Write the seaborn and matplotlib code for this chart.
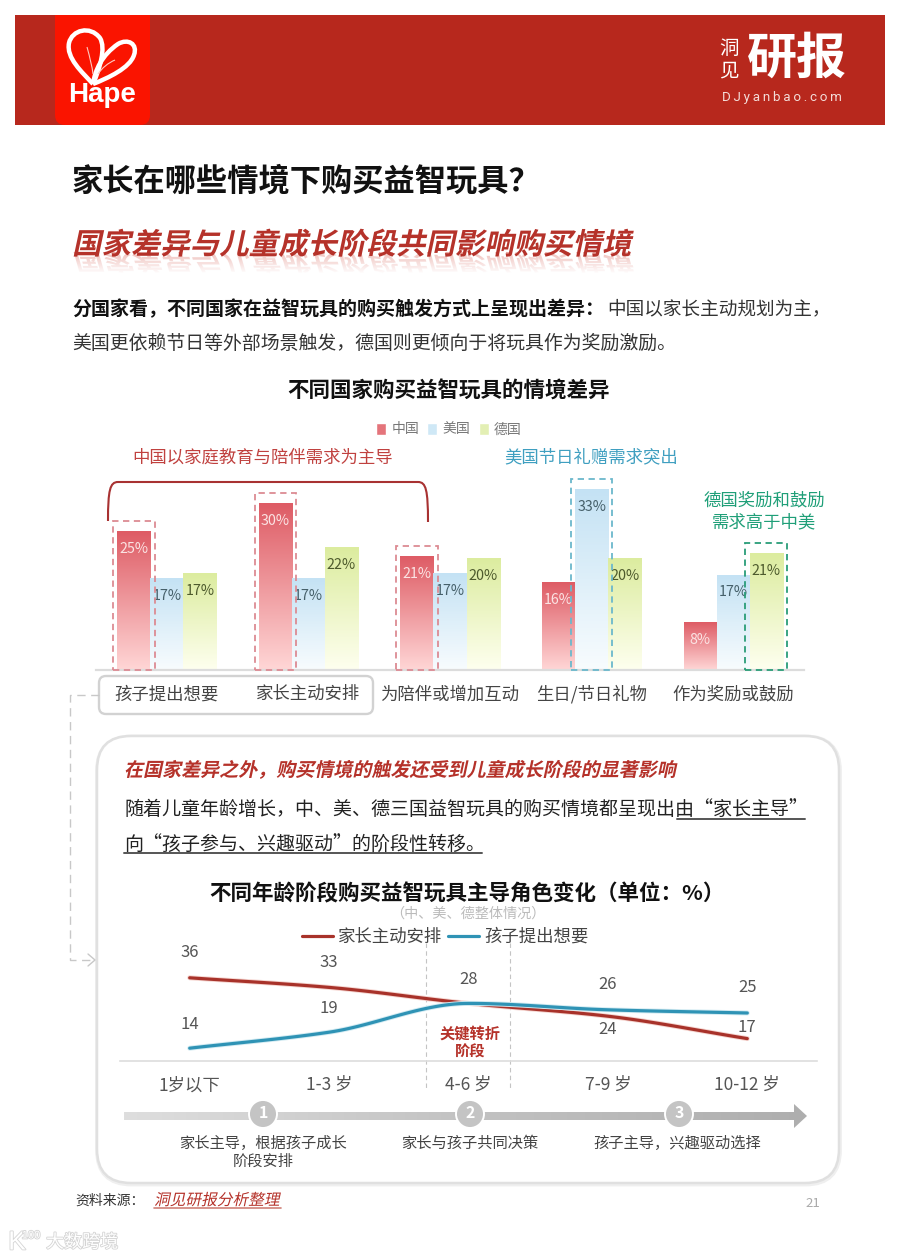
import numpy as np
import pandas as pd
import matplotlib
matplotlib.use('Agg')
import matplotlib.pyplot as plt
import matplotlib.patheffects as pe
from matplotlib.colors import LinearSegmentedColormap
from matplotlib.patches import Rectangle, FancyBboxPatch, Circle, PathPatch, Polygon
from matplotlib.path import Path
from matplotlib.transforms import Affine2D
import seaborn as sns

# Bar chart data
scenes = ['孩子提出想要', '家长主动安排', '为陪伴或增加互动', '生日/节日礼物', '作为奖励或鼓励']
countries = ['中国', '美国', '德国']
china = [25.0, 30.0, 20.5, 15.8, 8.5]
usa = [16.5, 16.5, 17.3, 32.5, 17.1]
germany = [17.4, 22.1, 20.0, 20.0, 20.9]
china_labels = ['25%', '30%', '21%', '16%', '8%']
usa_labels = ['17%', '17%', '17%', '33%', '17%']
germany_labels = ['17%', '22%', '20%', '20%', '21%']

# Line chart data
ages = ['1岁以下', '1-3 岁', '4-6 岁', '7-9 岁', '10-12 岁']
parent = [36, 33, 28, 24, 17]
child = [14, 19, 28, 26, 25]

W, H = 900, 1260
RED = '#b7281d'

sns.set_theme(style='white')
plt.rcParams['font.family'] = ['Noto Sans CJK SC', 'DejaVu Sans']
plt.rcParams['axes.unicode_minus'] = False

fig = plt.figure(figsize=(9, 12.6), dpi=100, facecolor='white')

# Page layer in pixel coordinates, y going down
bg = fig.add_axes([0, 0, 1, 1], zorder=0)
bg.set_xlim(0, W)
bg.set_ylim(H, 0)
bg.axis('off')


def px_axes(x0, y0, x1, y1):
    ax = fig.add_axes([x0 / W, 1 - y1 / H, (x1 - x0) / W, (y1 - y0) / H], zorder=1)
    ax.patch.set_alpha(0)
    return ax


class Sheared(pe.AbstractPathEffect):
    # CJK fonts have no italic, so lean the glyphs (and mirror them for the reflection)
    def __init__(self, shear=12, flip=False):
        super().__init__()
        self.shear = shear
        self.flip = flip

    def draw_path(self, renderer, gc, tpath, affine, rgbFace=None):
        t = Affine2D().skew_deg(self.shear, 0)
        if self.flip:
            t = t.scale(1, -0.75)
        renderer.draw_path(gc, tpath, t + affine, rgbFace)


def txt(x, y, s, size, color='#333333', ha='left', va='center', weight='normal', **kw):
    # CJK glyphs sit a little high when centred
    if va == 'center':
        y = y + 1.5
    return bg.text(x, y, s, fontsize=size, color=color, ha=ha, va=va, fontweight=weight, **kw)


def gradient_bar(ax, patch, top, bottom):
    cmap = LinearSegmentedColormap.from_list('bar', [top, bottom])
    x0, w, h = patch.get_x(), patch.get_width(), patch.get_height()
    ax.imshow(np.linspace(0, 1, 128).reshape(-1, 1), cmap=cmap, aspect='auto', origin='upper',
              extent=[x0, x0 + w, 0, h], zorder=2)
    patch.set_visible(False)


def smooth(xs, ys, n=30):
    # monotone cubic through the data points, only for drawing the rounded line
    xs, ys = np.asarray(xs, float), np.asarray(ys, float)
    d = np.diff(ys) / np.diff(xs)
    m = np.zeros_like(ys)
    m[0], m[-1] = d[0], d[-1]
    for i in range(1, len(ys) - 1):
        if d[i - 1] * d[i] > 0:
            m[i] = 2 * d[i - 1] * d[i] / (d[i - 1] + d[i])
    out_x, out_y = [], []
    for i in range(len(xs) - 1):
        t = np.linspace(0, 1, n)
        h = xs[i + 1] - xs[i]
        out_x.append(xs[i] + t * h)
        out_y.append((2 * t**3 - 3 * t**2 + 1) * ys[i] + (t**3 - 2 * t**2 + t) * h * m[i]
                     + (-2 * t**3 + 3 * t**2) * ys[i + 1] + (t**3 - t**2) * h * m[i + 1])
    return np.concatenate(out_x), np.concatenate(out_y)


# Header
bg.add_patch(Rectangle((15, 15), 870, 110, fc=RED, ec='none'))
bg.add_patch(FancyBboxPatch((55, 15), 95, 110, boxstyle='round,pad=0,rounding_size=10', fc='#fa1400', ec='none'))
bg.add_patch(Rectangle((55, 15), 95, 30, fc='#fa1400', ec='none'))
left_lobe = Path([(93, 84), (82, 72), (66, 58), (69, 43), (72, 30), (90, 25), (100, 38), (106, 48), (100, 68), (93, 84)],
                 [1, 4, 4, 4, 4, 4, 4, 4, 4, 4])
right_lobe = Path([(93, 84), (95, 70), (102, 55), (118, 44), (128, 38), (138, 44), (134, 55), (130, 68), (108, 78), (93, 84)],
                  [1, 4, 4, 4, 4, 4, 4, 4, 4, 4])
for lobe in (left_lobe, right_lobe):
    bg.add_patch(PathPatch(lobe, fc='none', ec='white', lw=3.2))
bg.add_patch(PathPatch(Path([(87, 47), (90, 58), (92, 66), (93, 74)], [1, 4, 4, 4]), fc='none', ec='#ffc9c0', lw=0.8))
bg.add_patch(PathPatch(Path([(115, 60), (108, 63), (102, 68), (98, 74)], [1, 4, 4, 4]), fc='none', ec='#ffc9c0', lw=0.8))
txt(102, 94, 'Hape', 20, 'white', ha='center', weight='bold', family=['Liberation Sans'])
txt(729, 47, '洞', 14, 'white', ha='center')
txt(729, 70, '见', 14, 'white', ha='center')
txt(747, 58, '研报', 36, 'white', weight='bold')
txt(782, 95.5, '\u2009'.join('DJyanbao.com'), 9.6, '#f4dcd8', ha='center', family=['Roboto', 'DejaVu Sans'])

# Titles and intro
txt(72, 180, '家长在哪些情境下购买益智玩具？', 22.5, '#111111', weight='bold')
txt(72, 254, '国家差异与儿童成长阶段共同影响购买情境', 21.2, '#e9a8a2', va='baseline', weight='bold',
    path_effects=[Sheared(12, flip=True)])
fade = np.ones((64, 1, 4))
fade[:, 0, 3] = np.linspace(0.35, 1, 64)
bg.imshow(fade, extent=[60, 660, 274, 254], aspect='auto', zorder=3)
txt(72, 254, '国家差异与儿童成长阶段共同影响购买情境', 21.2, '#b5322a', va='baseline', weight='bold', zorder=4,
    path_effects=[Sheared(12)])
txt(72, 308, '分国家看，不同国家在益智玩具的购买触发方式上呈现出差异：', 13.7, '#111111', weight='bold')
txt(607, 308, '中国以家长主动规划为主，', 13.4, '#333333')
txt(72, 342, '美国更依赖节日等外部场景触发，德国则更倾向于将玩具作为奖励激励。', 13.6, '#333333')

# Bar chart
txt(449, 390, '不同国家购买益智玩具的情境差异', 15.5, '#111111', ha='center', weight='bold')
bar_df = pd.DataFrame({
    '情境': scenes * 3,
    '国家': sum([[c] * len(scenes) for c in countries], []),
    '占比': china + usa + germany,
})
ax1 = px_axes(96, 470, 804, 670)
sns.barplot(data=bar_df, x='情境', y='占比', hue='国家', hue_order=countries,
            palette=['#e4747b', '#cfe8f6', '#e3efb4'], width=0.70, gap=0, saturation=1, ax=ax1)
sns.move_legend(ax1, 'center', bbox_to_anchor=(449 / W, 1 - 429.5 / H), bbox_transform=fig.transFigure,
                ncols=3, title=None, frameon=False, fontsize=10, labelcolor='#777777',
                handlelength=0.7, handleheight=1.0, handletextpad=0.4, columnspacing=0.6)
ax1.set_autoscale_on(False)
ax1.set_xlim(-0.5, 4.5)
ax1.set_ylim(0, 36)
ramps = [('#de5c65', '#ffd6d6'), ('#c4e2f4', '#f8fcfe'), ('#dcec9f', '#feffef')]
text_colors = ['#fbe3e3', '#46606a', '#4d5a2c']
all_labels = [china_labels, usa_labels, germany_labels]
for cont, ramp, lab, col in zip(ax1.containers, ramps, all_labels, text_colors):
    for p in cont:
        gradient_bar(ax1, p, *ramp)
    for p, s in zip(cont, lab):
        ax1.annotate(s, (p.get_x() + p.get_width() / 2, p.get_height()), xytext=(0, -12.6),
                     textcoords='offset points', ha='center', va='center', fontsize=10.3, color=col, zorder=5)
ax1.set_xlabel('')
ax1.set_ylabel('')
ax1.set_yticks([])
ax1.tick_params(axis='x', length=0, pad=11, labelsize=12.5, labelcolor='#444444')
sns.despine(ax=ax1, left=True)
ax1.spines['bottom'].set_color('#dcdcdc')
ax1.spines['bottom'].set_linewidth(1.6)

# Dashed boxes around the leading bar of each group
boxed = [(0, 0, '#dc8b93'), (0, 1, '#dc8b93'), (0, 2, '#dc8b93'), (1, 3, '#6bb8cc'), (2, 4, '#2a9d78')]
for series, group, color in boxed:
    p = ax1.containers[series][group]
    ax1.add_patch(Rectangle((p.get_x() - 0.03, 0), p.get_width() + 0.06, p.get_height() + 1.9, fc='none', ec=color,
                            lw=1.3, ls=(0, (3.5, 2.5)), zorder=6, clip_on=False))

txt(263, 456, '中国以家庭教育与陪伴需求为主导', 12.5, '#c0413f', ha='center')
txt(591, 456, '美国节日礼赠需求突出', 12.5, '#3f9fc0', ha='center')
txt(764, 499, '德国奖励和鼓励', 12.5, '#1f9f78', ha='center')
txt(764, 521, '需求高于中美', 12.5, '#1f9f78', ha='center')
bracket = Path([(108, 521), (108, 490), (110, 482), (118, 482), (418, 482), (426, 482), (428, 490), (428, 522)],
               [1, 4, 4, 4, 2, 4, 4, 4])
bg.add_patch(PathPatch(bracket, fc='none', ec='#a83232', lw=1.5))

# Box around first two labels and connector into the panel
bg.add_patch(FancyBboxPatch((99, 676), 274, 38, boxstyle='round,pad=0,rounding_size=7', fc='white', ec='#d2d2d2', lw=1.7))
bg.plot([99, 70, 70, 92], [695, 695, 960, 960], color='#c8c8c8', lw=1, ls=(0, (6, 4)))
bg.plot([88, 95, 88], [954, 960, 966], color='#c8c8c8', lw=1)

# Rounded panel
bg.add_patch(FancyBboxPatch((97.5, 737), 742, 447, boxstyle='round,pad=0,rounding_size=34', fc='none', ec='#efefef', lw=3.5))
bg.add_patch(FancyBboxPatch((97, 736), 742, 447, boxstyle='round,pad=0,rounding_size=34', fc='white', ec='#e0e0e0', lw=1.8))
txt(124, 769, '在国家差异之外，购买情境的触发还受到儿童成长阶段的显著影响', 13.7, '#b5322a', weight='bold',
    path_effects=[Sheared(12)])
txt(124, 808, '随着儿童年龄增长，中、美、德三国益智玩具的购买情境都呈现出由“家长主导”', 13.7, '#222222')
txt(124, 843, '向“孩子参与、兴趣驱动”的阶段性转移。', 13.7, '#222222')
bg.plot([677, 805], [819, 819], color='#555555', lw=1.4)
bg.plot([124, 482], [853, 853], color='#555555', lw=1.4)
txt(467, 892, '不同年龄阶段购买益智玩具主导角色变化（单位：%）', 15.5, '#111111', ha='center', weight='bold')
txt(468, 912, '（中、美、德整体情况）', 10.2, '#bbbbbb', ha='center')

# Transition band behind the line chart
for x in (425.5, 509.5):
    bg.plot([x, x], [943, 1088], color='#c4c4c4', lw=0.8, ls=(0, (4, 3)))
txt(470, 1032, '关键转折', 11, '#b5322a', ha='center', weight='bold')
txt(470, 1050, '阶段', 11, '#b5322a', ha='center', weight='bold')

# Line chart
line_df = pd.DataFrame({
    '年龄': ages * 2,
    '角色': ['家长主动安排'] * len(ages) + ['孩子提出想要'] * len(ages),
    '比例': parent + child,
})
ax2 = px_axes(120, 945, 817, 1061)
sns.lineplot(data=line_df, x='年龄', y='比例', hue='角色', palette=['#a8322a', '#2f93b5'], sort=False,
             linewidth=2.3, ax=ax2)
sns.move_legend(ax2, 'center', bbox_to_anchor=(445 / W, 1 - 937 / H), bbox_transform=fig.transFigure,
                ncols=2, title=None, frameon=False, fontsize=12.5, labelcolor='#444444',
                handlelength=1.8, handletextpad=0.3, columnspacing=0.3)
ax2.set_xlim(-0.5, 4.5)
ax2.set_ylim(10, 46.25)
halos = ['#f5d5d0', '#d3ebf2']
for line, halo in zip(ax2.lines[:2], halos):
    sx, sy = smooth(*line.get_data())
    line.set_data(sx, sy)
    line.set_path_effects([pe.withStroke(linewidth=3.6, foreground=halo)])
    line.set_solid_capstyle('round')
# label offsets in points from the data point
parent_off = [18, 18, 17, -9.5, 8]
child_off = [17, 17, None, 18, 18]
for vals, offs in ((parent, parent_off), (child, child_off)):
    for i, (v, off) in enumerate(zip(vals, offs)):
        if off is not None:
            ax2.annotate(str(v), (i, v), xytext=(0, off), textcoords='offset points', ha='center', va='center',
                         fontsize=12, color='#555555', annotation_clip=False)
ax2.set_xlabel('')
ax2.set_ylabel('')
ax2.set_yticks([])
ax2.tick_params(axis='x', length=0, pad=11, labelsize=12.5, labelcolor='#555555')
sns.despine(ax=ax2, left=True)
ax2.spines['bottom'].set_color('#dddddd')
ax2.spines['bottom'].set_linewidth(1.2)

# Stage arrow
arrow_cmap = LinearSegmentedColormap.from_list('arrow', ['#dedede', '#c2c2c2', '#aeaeae'])
arrow_img = bg.imshow(np.linspace(0, 1, 256).reshape(1, -1), cmap=arrow_cmap, aspect='auto',
                      extent=[124, 807, 1129, 1103], zorder=2)
arrow_shape = Polygon([(124, 1112), (794, 1112), (794, 1104), (807, 1116), (794, 1128), (794, 1120), (124, 1120)],
                      transform=bg.transData)
arrow_img.set_clip_path(arrow_shape)
stage_x = [263, 470, 679]
stage_text = ['家长主导，根据孩子成长', '家长与孩子共同决策', '孩子主导，兴趣驱动选择']
for i, (x, s) in enumerate(zip(stage_x, stage_text)):
    bg.add_patch(Circle((x, 1114), 14, fc='#c4c4c4', ec='white', lw=1.4, zorder=3))
    txt(x, 1112, str(i + 1), 11.5, 'white', ha='center', weight='bold', zorder=4)
    txt(x - 2 if i == 2 else x, 1142, s, 11, '#444444', ha='center')
txt(263, 1160, '阶段安排', 11, '#444444', ha='center')

# Footer
txt(75, 1199, '资料来源：', 10, '#333333')
txt(154, 1199, '洞见研报分析整理', 11.3, '#b5322a', path_effects=[Sheared(12)])
bg.plot([154, 281], [1208, 1208], color='#d08078', lw=1.2)
txt(813, 1202, '21', 9.5, '#aaaaaa', ha='center')
halo_wm = [pe.withStroke(linewidth=1.2, foreground='#d4d4d4')]
txt(17, 1241, 'K', 19, 'white', ha='center', family=['Liberation Sans'], path_effects=halo_wm)
txt(31, 1234, '100', 8, 'white', ha='center', family=['Liberation Sans'], path_effects=halo_wm)
txt(46, 1241, '大数跨境', 13, 'white', path_effects=halo_wm)

bg.set_xlim(0, W)
bg.set_ylim(H, 0)

fig.savefig('out.png', dpi=100, facecolor='white')
